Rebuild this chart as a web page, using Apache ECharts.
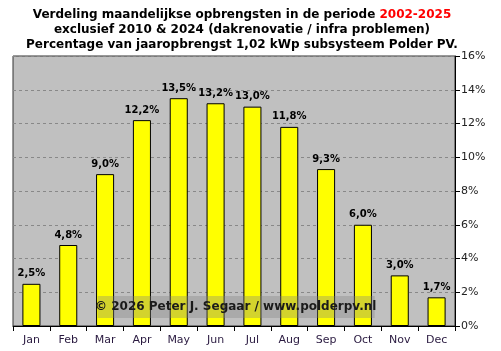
<!DOCTYPE html>
<html>
<head>
<meta charset="utf-8">
<script src="https://cdn.jsdelivr.net/npm/echarts@6/dist/echarts.min.js"></script>
<style>
  html, body { margin: 0; padding: 0; background: #fff; }
  #chart { width: 501px; height: 351px; }
</style>
</head>
<body>
<div id="chart"></div>
<script>
const months = ["Jan", "Feb", "Mar", "Apr", "May", "Jun", "Jul", "Aug", "Sep", "Oct", "Nov", "Dec"];
const shares = [2.5, 4.8, 9.0, 12.2, 13.5, 13.2, 13.0, 11.8, 9.3, 6.0, 3.0, 1.7];
const yTicks = [0, 2, 4, 6, 8, 10, 12, 14, 16];

const font = "DejaVu Sans, Verdana, sans-serif";
const chart = echarts.init(document.getElementById("chart"), null, { renderer: "canvas" });

chart.setOption({
  animation: false,
  backgroundColor: "#ffffff",
  title: {
    left: 237,
    top: 2,
    textAlign: "center",
    itemGap: 0,
    text:
      "{b|Verdeling maandelijkse opbrengsten in de periode }{r|2002-2025}\n" +
      "{b|exclusief 2010 & 2024 (dakrenovatie / infra problemen)}\n" +
      "{b|Percentage van jaaropbrengst 1,02 kWp subsysteem Polder PV.}",
    textStyle: {
      fontFamily: font,
      fontWeight: "bold",
      fontSize: 12,
      lineHeight: 15,
      rich: {
        b: { fontFamily: font, fontWeight: "bold", fontSize: 12, color: "#000", lineHeight: 15 },
        r: { fontFamily: font, fontWeight: "bold", fontSize: 12, color: "#ff0000", lineHeight: 15 }
      }
    }
  },
  grid: { left: 13, right: 46, top: 56, bottom: 25, show: true, backgroundColor: "#c0c0c0", borderColor: "#333", borderWidth: 1 },
  xAxis: {
    type: "category",
    data: months,
    axisLine: { lineStyle: { color: "#000" } },
    axisTick: { show: true, length: 5, lineStyle: { color: "#000" } },
    axisLabel: { color: "#2a1a40", fontFamily: font, fontSize: 11, margin: 9 }
  },
  yAxis: {
    type: "value",
    position: "right",
    min: yTicks[0],
    max: yTicks[yTicks.length - 1],
    interval: 2,
    axisLine: { show: true, lineStyle: { color: "#000" } },
    axisTick: { show: true, length: 5, lineStyle: { color: "#000" } },
    axisLabel: { color: "#222", fontFamily: font, fontSize: 11, margin: 6, formatter: (v) => v + "%" },
    splitLine: { lineStyle: { color: "#888", type: [3, 3] } }
  },
  series: [{
    type: "bar",
    data: shares,
    barWidth: "49%",
    itemStyle: { color: "#ffff00", borderColor: "#000", borderWidth: 1 },
    label: {
      show: true,
      position: "top",
      distance: 5,
      color: "#000",
      fontFamily: font,
      fontWeight: "bold",
      fontSize: 10,
      formatter: (p) => p.value.toFixed(1).replace(".", ",") + "%"
    }
  }],
  graphic: [{
    type: "group",
    left: 95,
    top: 296,
    z: 100,
    children: [
      { type: "rect", z: 100, shape: { x: 0, y: 0, width: 277, height: 22 }, style: { fill: "rgba(128,128,128,0.35)" } },
      {
        type: "text",
        z: 101,
        style: {
          x: 138, y: 11, text: "© 2026 Peter J. Segaar / www.polderpv.nl",
          align: "center", verticalAlign: "middle",
          font: "bold 12px " + font, fill: "#1a1a1a"
        }
      }
    ]
  }]
});
</script>
</body>
</html>
